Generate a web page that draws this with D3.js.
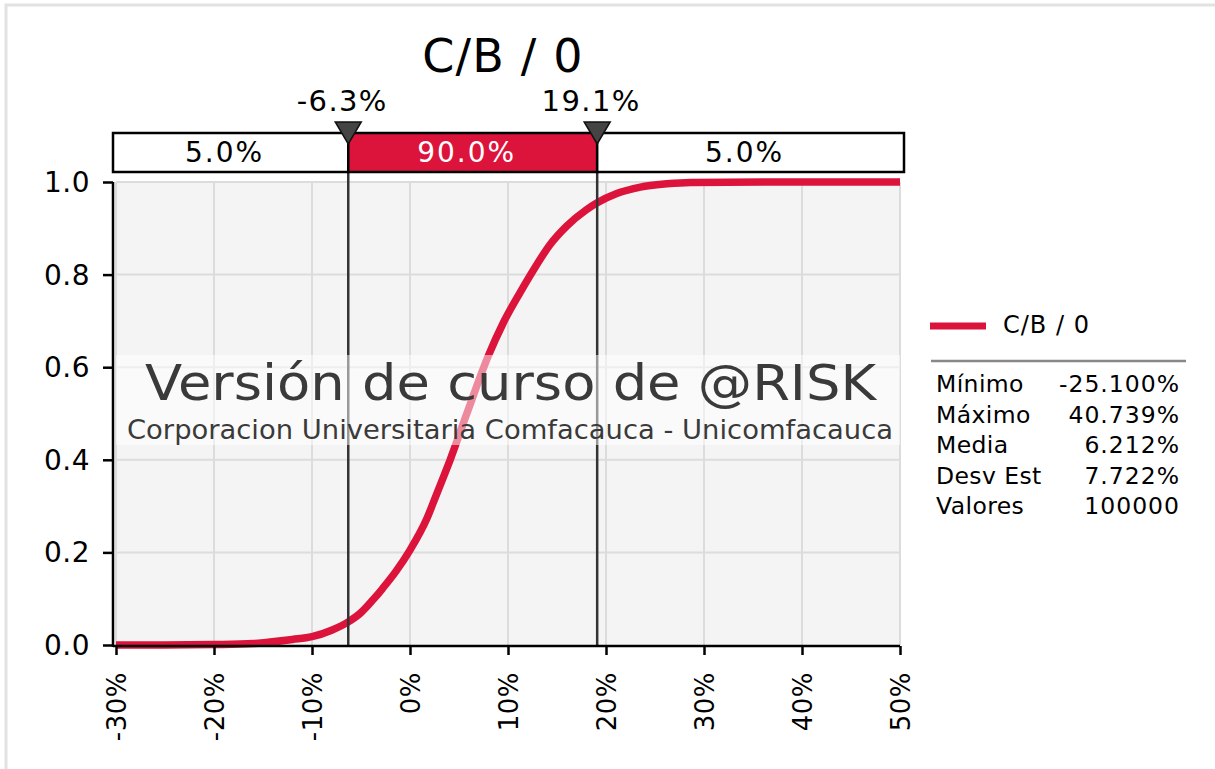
<!DOCTYPE html>
<html><head><meta charset="utf-8">
<script src="https://cdn.jsdelivr.net/npm/d3@7"></script>
<style>
body{margin:0;background:#fff;}
svg text{font-family:"DejaVu Sans",Verdana,sans-serif;}
</style></head>
<body><svg id="c" width="1215" height="769"></svg>
<script>
// ---- data ----
const title = "C/B / 0";
const xPct = [-30,-25.1,-20,-16,-14.5,-12,-10,-8,-6.3,-5,-3.8,-2.8,-1.4,0,1.7,2.7,3.4,4.1,5.8,8.0,9.5,11.2,12.6,14.3,16.0,18.0,19.1,21.1,23.5,26.2,28.6,40.7,50];
const cdf  = [0,0,0.001,0.003,0.006,0.012,0.018,0.032,0.05,0.07,0.097,0.122,0.16,0.205,0.272,0.325,0.362,0.40,0.50,0.625,0.695,0.76,0.81,0.865,0.905,0.94,0.955,0.975,0.989,0.996,0.999,1,1];
const xTicks = [-30,-20,-10,0,10,20,30,40,50];
const xTickLabels = ["-30%","-20%","-10%","0%","10%","20%","30%","40%","50%"];
const yTicks = [0,0.2,0.4,0.6,0.8,1.0];
const yTickLabels = ["0.0","0.2","0.4","0.6","0.8","1.0"];
const markers = [-6.3, 19.1];
const markerLabels = ["-6.3%","19.1%"];
const bandLabels = ["5.0%","90.0%","5.0%"];
const statNames = ["Mínimo","Máximo","Media","Desv Est","Valores"];
const statValues = ["-25.100%","40.739%","6.212%","7.722%","100000"];
const watermark = "Versión de curso de @RISK";
const watermarkSub = "Corporacion Universitaria Comfacauca - Unicomfacauca";

const RED = "#dc143c";
const svg = d3.select("#c");

// outer frame
svg.append("rect").attr("x",6).attr("y",5).attr("width",1400).attr("height",1000)
  .attr("fill","none").attr("stroke","#e2e2e2").attr("stroke-width",3);

const x = d3.scaleLinear().domain([-30,50]).range([116,900]);
const y = d3.scaleLinear().domain([0,1]).range([645,182]);

// plot background
svg.append("rect").attr("x",x(-30)).attr("y",y(1)).attr("width",x(50)-x(-30)).attr("height",y(0)-y(1)).attr("fill","#f4f4f4");

// grid
svg.selectAll(".vg").data(xTicks).join("line")
  .attr("x1",d=>x(d)).attr("x2",d=>x(d)).attr("y1",y(1)).attr("y2",y(0))
  .attr("stroke","#dcdcdc").attr("stroke-width",2);
svg.selectAll(".hg").data(yTicks.filter(d=>d>0)).join("line")
  .attr("x1",x(-30)).attr("x2",x(50)).attr("y1",d=>y(d)).attr("y2",d=>y(d))
  .attr("stroke","#dcdcdc").attr("stroke-width",2);

// CDF line
const pts = xPct.map((v,i)=>[v,cdf[i]]);
svg.append("path").datum(pts)
  .attr("d", d3.line().x(d=>x(d[0])).y(d=>y(d[1])).curve(d3.curveMonotoneX))
  .attr("fill","none").attr("stroke",RED).attr("stroke-width",7.5);

// marker lines
svg.selectAll(".ml").data(markers).join("line")
  .attr("x1",d=>x(d)).attr("x2",d=>x(d)).attr("y1",140).attr("y2",y(0))
  .attr("stroke","#333").attr("stroke-width",2.5);

// axes
const xAxis = svg.append("g").attr("transform",`translate(0,${y(0)+1})`)
  .call(d3.axisBottom(x).tickValues(xTicks).tickSize(9).tickFormat(""));
xAxis.select(".domain").attr("d",`M${x(-30)-3},0H${x(50)}`).attr("stroke","#000").attr("stroke-width",2.5);
xAxis.selectAll(".tick line").attr("stroke","#000").attr("stroke-width",2.5);
const yAxis = svg.append("g").attr("transform",`translate(${x(-30)-3},0)`)
  .call(d3.axisLeft(y).tickValues(yTicks).tickSize(10).tickFormat(""));
yAxis.select(".domain").attr("d",`M0,${y(1)}V${y(0)+2}`).attr("stroke","#000").attr("stroke-width",2.5);
yAxis.selectAll(".tick line").attr("stroke","#000").attr("stroke-width",2.5);

svg.selectAll(".yl").data(yTicks).join("text")
  .attr("x",90).attr("y",d=>y(d)).attr("dy","0.36em").attr("text-anchor","end")
  .attr("font-size",28).attr("letter-spacing",0.5).attr("fill","#000").text((d,i)=>yTickLabels[i]);
svg.selectAll(".xl").data(xTicks).join("text")
  .attr("transform",d=>`translate(${x(d)+9.5},672) rotate(-90)`)
  .attr("text-anchor","end").attr("font-size",26).attr("letter-spacing",0.5).attr("fill","#000")
  .text((d,i)=>xTickLabels[i]);

// watermark band
svg.append("rect").attr("x",x(-30)).attr("y",355).attr("width",x(50)-x(-30)).attr("height",90)
  .attr("fill","#fff").attr("opacity",0.5);
svg.append("text").attr("x",510.5).attr("y",400).attr("text-anchor","middle")
  .attr("font-size",50).attr("fill","#3a3a3a")
  .attr("textLength",731).attr("lengthAdjust","spacingAndGlyphs").text(watermark);
svg.append("text").attr("x",510).attr("y",439).attr("text-anchor","middle")
  .attr("font-size",27).attr("fill","#3a3a3a")
  .attr("textLength",766).attr("lengthAdjust","spacingAndGlyphs").text(watermarkSub);

// probability band boxes
const bx = [113, x(markers[0]), x(markers[1]), 904];
const boxes = [0,1,2].map(i=>({x0:bx[i],x1:bx[i+1],lab:bandLabels[i],mid:i===1}));
svg.selectAll(".bb").data(boxes).join("rect")
  .attr("x",d=>d.x0).attr("y",133).attr("width",d=>d.x1-d.x0).attr("height",39)
  .attr("fill",d=>d.mid?RED:"#fff").attr("stroke","#000").attr("stroke-width",2.5);
svg.selectAll(".bt").data(boxes).join("text")
  .attr("x",d=>(d.x0+d.x1)/2-6).attr("y",162).attr("text-anchor","middle")
  .attr("font-size",28).attr("letter-spacing",2).attr("fill",d=>d.mid?"#fff":"#000").text(d=>d.lab);

// triangles
svg.selectAll(".tri").data(markers).join("path")
  .attr("d",d=>`M${x(d)-13},122L${x(d)+13},122L${x(d)},144Z`)
  .attr("fill","#444").attr("stroke","#111").attr("stroke-width",1.5);
svg.selectAll(".mlab").data(markers).join("text")
  .attr("x",d=>x(d)-6).attr("y",111).attr("text-anchor","middle")
  .attr("font-size",29).attr("letter-spacing",1.4).attr("fill","#000").text((d,i)=>markerLabels[i]);

// title
svg.append("text").attr("x",503).attr("y",72).attr("text-anchor","middle")
  .attr("font-size",46).attr("letter-spacing",1.2).attr("fill","#000").text(title);

// legend
svg.append("line").attr("x1",930).attr("x2",986).attr("y1",326).attr("y2",326)
  .attr("stroke",RED).attr("stroke-width",7);
svg.append("text").attr("x",1003).attr("y",333).attr("font-size",24).attr("letter-spacing",1).attr("fill","#000").text(title);
svg.append("line").attr("x1",931).attr("x2",1186).attr("y1",361).attr("y2",361)
  .attr("stroke","#888").attr("stroke-width",2.5);
svg.selectAll(".sn").data(statNames).join("text")
  .attr("x",936).attr("y",(d,i)=>392+i*30.5).attr("font-size",23.5).attr("letter-spacing",0.4).attr("fill","#000").text(d=>d);
svg.selectAll(".sv").data(statValues).join("text")
  .attr("x",1180).attr("y",(d,i)=>392+i*30.5).attr("text-anchor","end").attr("font-size",23.5).attr("letter-spacing",1).attr("fill","#000").text(d=>d);
</script></body></html>
